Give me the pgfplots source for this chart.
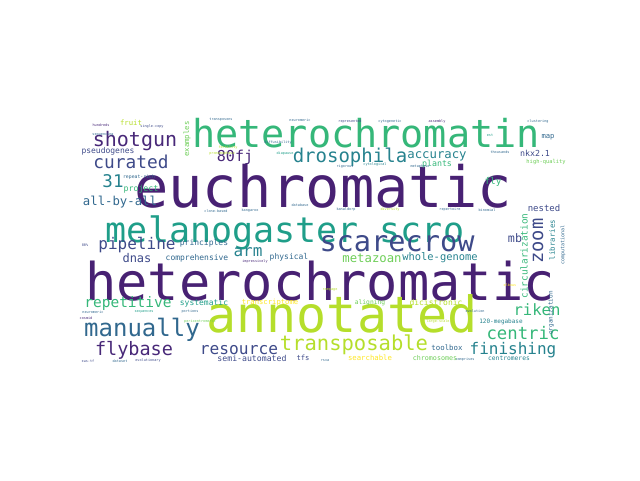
\documentclass[border=0pt]{standalone}
\usepackage{pgfplots}
\pgfplotsset{compat=1.18}
\usepackage{fontspec}
\newfontfamily\wc{DejaVu Sans Mono}
\definecolor{v0}{HTML}{440154}
\definecolor{v1}{HTML}{482878}
\definecolor{v2}{HTML}{3E4A89}
\definecolor{v3}{HTML}{31688E}
\definecolor{v4}{HTML}{26828E}
\definecolor{v5}{HTML}{1F9E89}
\definecolor{v6}{HTML}{35B779}
\definecolor{v7}{HTML}{6ECE58}
\definecolor{v8}{HTML}{B5DE2B}
\definecolor{v9}{HTML}{FDE725}
\definecolor{vh}{HTML}{482173}
\newcommand{\w}[5]{\node[inner sep=0pt,text=#4,font=\wc\fontsize{#3}{#3}\selectfont] at (axis cs:#1,#2) {#5};}
\newcommand{\wv}[5]{\node[inner sep=0pt,rotate=90,text=#4,font=\wc\fontsize{#3}{#3}\selectfont] at (axis cs:#1,#2) {#5};}
\begin{document}
\begin{tikzpicture}
\begin{axis}[width=640pt,height=480pt,scale only axis,xmin=0,xmax=640,ymin=0,ymax=480,y dir=reverse,hide axis,clip=false]
\addplot[draw=none] coordinates {(0,0) (640,480)};
\w{323}{186}{57}{vh}{euchromatic}
\w{320}{281}{52}{vh}{heterochromatic}
\w{342}{314}{50}{v8}{annotated}
\w{366}{133}{38.5}{v6}{heterochromatin}
\w{285}{233}{35}{v5}{melanogaster scro}
\w{397}{244}{28.6}{v2}{scarecrow}
\w{135}{141}{20}{v1}{shotgun}
\w{131}{162}{17.8}{v2}{curated}
\w{235}{157}{15}{v1}{80fj}
\w{113}{181}{17.5}{v4}{31}
\w{120}{202}{12.3}{v3}{all-by-all}
\w{137}{245}{16}{v2}{pipeline}
\w{248}{252}{16}{v4}{arm}
\w{137}{258}{12}{v2}{dnas}
\w{197}{258}{8}{v3}{comprehensive}
\w{289}{257}{8}{v3}{physical}
\w{131}{123}{7.3}{v8}{fruit}
\wv{187}{139}{7.3}{v7}{examples}
\w{108}{151}{8}{v2}{pseudogenes}
\w{139}{177}{4.8}{v3}{repeat-rich}
\w{141}{189}{8.3}{v6}{project}
\w{204}{243}{8}{v3}{principles}
\w{350}{157}{19}{v4}{drosophila}
\w{437}{156}{12.3}{v4}{accuracy}
\w{437}{164}{8.3}{v6}{plants}
\w{535}{153}{8.3}{v2}{nkx2.1}
\w{548}{137}{7.2}{v3}{map}
\w{546}{162}{5.4}{v7}{high-quality}
\w{493}{182}{9.4}{v6}{fly}
\wv{538}{241}{18.7}{v2}{zoom}
\w{544}{208}{9}{v2}{nested}
\w{515}{238}{11.7}{v2}{mb}
\w{372}{258}{12.3}{v7}{metazoan}
\w{440}{258}{10.4}{v4}{whole-genome}
\w{128}{303}{14.5}{v6}{repetitive}
\w{142}{330}{24}{v3}{manually}
\w{134}{350}{18.5}{v1}{flybase}
\w{239}{350}{16.2}{v2}{resource}
\w{354}{345}{20.5}{v8}{transposable}
\w{513}{350}{16}{v4}{finishing}
\w{523}{333}{17.3}{v6}{centric}
\w{537}{310}{15.6}{v6}{riken}
\w{204}{303}{8}{v5}{systematic}
\w{270}{303}{7.2}{v9}{transcriptome}
\w{370}{303}{6.3}{v7}{aligning}
\w{436}{303}{8}{v8}{dicistronic}
\w{252}{358}{8.2}{v2}{semi-automated}
\w{303}{358}{7.2}{v2}{tfs}
\w{370}{358}{7.3}{v9}{searchable}
\w{435}{358}{6.7}{v7}{chromosomes}
\w{447}{348}{7.4}{v3}{toolbox}
\w{509}{358}{6.3}{v4}{centromeres}
\w{501}{322}{6}{v4}{120-megabase}
\wv{524}{256}{9.4}{v6}{circularization}
\wv{552}{240}{7.4}{v4}{libraries}
\wv{563}{245}{5}{v3}{computational}
\wv{551}{313}{6}{v3}{organization}
\w{101}{125}{3.5}{v1}{hundreds}
\w{152}{127}{3.5}{v2}{single-copy}
\w{103}{135}{3.5}{v3}{sequencing}
\w{221}{120}{3.5}{v3}{transposons}
\w{228}{148}{3.5}{v8}{fertility}
\w{278}{143}{3.5}{v3}{diffusibility}
\w{222}{154}{3.5}{v8}{promenophase}
\w{285}{154}{3.5}{v5}{diapause}
\w{300}{120}{3.5}{v3}{neuromeric}
\w{350}{122}{3.5}{v2}{represented}
\w{390}{122}{3.5}{v3}{cytogenetic}
\w{437}{122}{3.5}{v1}{assembly}
\w{538}{122}{3.5}{v3}{clustering}
\w{490}{135}{3.5}{v5}{est}
\w{500}{152}{3.5}{v3}{thousands}
\w{375}{165}{3.5}{v4}{cytological}
\w{420}{167}{3.5}{v3}{metaphase}
\w{345}{167}{3.5}{v3}{rigorous}
\w{300}{205}{3.5}{v3}{database}
\w{346}{210}{3.5}{v3}{kanaldorp}
\w{390}{210}{3.5}{v8}{diversity}
\w{450}{210}{3.5}{v3}{repertoire}
\w{487}{210}{3.5}{v3}{binomial}
\w{250}{211}{3.5}{v3}{kangaroo}
\w{216}{211}{3.5}{v3}{clone-based}
\w{85}{245}{3.5}{v2}{80\%}
\w{93}{312}{3.5}{v3}{neuromeric}
\w{86}{318}{3.5}{v1}{cosmid}
\w{144}{312}{3.5}{v5}{sequences}
\w{190}{312}{3.5}{v3}{portions}
\w{88}{361}{3.5}{v2}{sws-tf}
\w{120}{361}{3.5}{v3}{dataset}
\w{148}{361}{3.5}{v2}{evolutionary}
\w{200}{322}{3.5}{v7}{pericentromeric}
\w{255}{262}{3.5}{v1}{impressively}
\w{330}{290}{3.5}{v8}{rampage}
\w{510}{285}{3.5}{v9}{elbows}
\w{475}{311}{3.5}{v3}{evolution}
\w{438}{322}{3.5}{v8}{large-scale}
\w{465}{360}{3.5}{v3}{comprises}
\w{325}{361}{3.5}{v3}{rsva}
\end{axis}
\end{tikzpicture}
\end{document}
